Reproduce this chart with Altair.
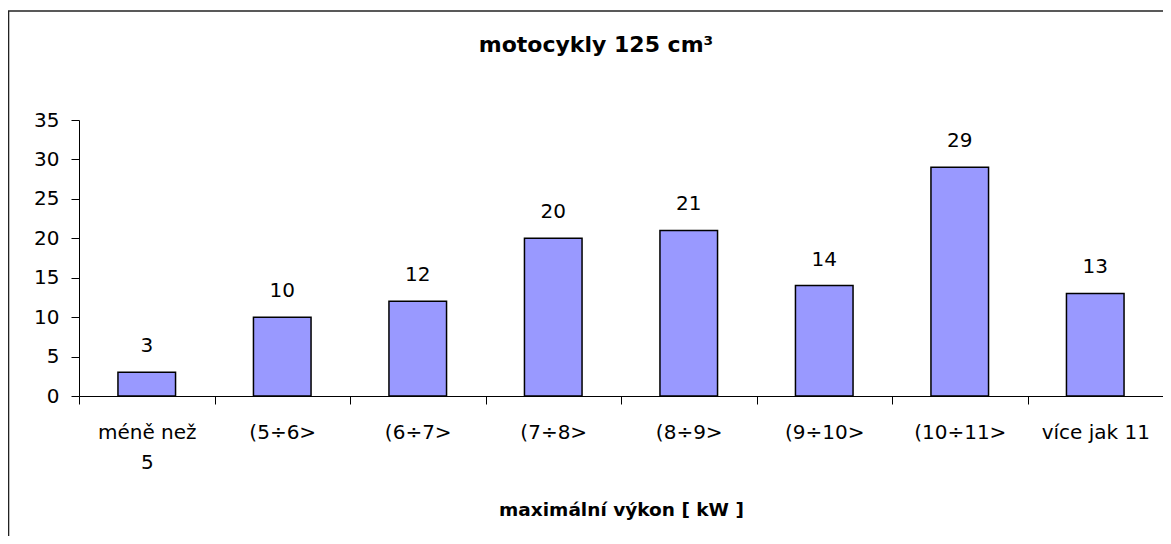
import altair as alt
import pandas as pd

categories = ["méně než\n5", "(5÷6>", "(6÷7>", "(7÷8>", "(8÷9>", "(9÷10>", "(10÷11>", "více jak 11"]
counts = [3, 10, 12, 20, 21, 14, 29, 13]
y_ticks = [0, 5, 10, 15, 20, 25, 30, 35]
title_text = "motocykly 125 cm³"
x_title = "maximální výkon [ kW ]"

df = pd.DataFrame({"kat": categories, "pocet": counts})
FONT = "DejaVu Sans"

x_enc = alt.X(
    "kat:N",
    sort=None,
    scale=alt.Scale(paddingInner=0, paddingOuter=0),
    axis=alt.Axis(
        title=x_title,
        labelAngle=0,
        tickBand="extent",
        labelExpr="split(datum.label, '\\n')",
        labelLineHeight=30,
        labelFontSize=20,
        labelFont=FONT,
        labelColor="black",
        labelPadding=18,
        tickSize=8,
        tickColor="black",
        domainColor="black",
        grid=False,
        titleFontSize=18.5,
        titleFont=FONT,
        titleColor="black",
        titleFontWeight="bold",
        titlePadding=28,
    ),
)

y_enc = alt.Y(
    "pocet:Q",
    scale=alt.Scale(domain=[0, 35], nice=False, zero=True),
    axis=alt.Axis(
        title=None,
        values=y_ticks,
        grid=False,
        labelFontSize=20,
        labelFont=FONT,
        labelColor="black",
        labelPadding=12,
        labelOverlap=False,
        tickSize=8,
        tickColor="black",
        domainColor="black",
    ),
)

base = alt.Chart(df).encode(x=x_enc, y=y_enc)

bars = base.mark_bar(
    width=alt.RelativeBandSize(0.425),
    color="#9999FF",
    stroke="black",
    strokeWidth=1.5,
)

labels = base.mark_text(
    baseline="alphabetic", dy=-20, fontSize=20, font=FONT, color="black"
).encode(text="pocet:Q")

one = pd.DataFrame({"t": [title_text]})
title_mark = alt.Chart(one).mark_text(
    fontSize=22, fontWeight="bold", font=FONT, color="black", baseline="middle", align="center"
).encode(x=alt.value(517), y=alt.value(-75), text="t:N")

top_border = alt.Chart(one).mark_rule(color="#222222", strokeWidth=1.6).encode(
    x=alt.value(-71), x2=alt.value(1200), y=alt.value(-109)
)
left_border = alt.Chart(one).mark_rule(color="#222222", strokeWidth=1.6).encode(
    x=alt.value(-70.5), y=alt.value(-109), y2=alt.value(600)
)
# white cover over the view's outline at the top of the plot area
top_cover = alt.Chart(one).mark_rule(color="white", strokeWidth=3).encode(
    x=alt.value(1.5), x2=alt.value(1090), y=alt.value(0)
)

chart = alt.layer(bars, labels, title_mark, top_border, left_border, top_cover).properties(
    width=1084,
    height=276,
    autosize=alt.AutoSizeParams(type="none"),
    padding={"left": 71, "top": 112, "right": 0, "bottom": 140},
    background="white",
).configure_view(stroke="transparent", strokeWidth=0)

chart.save("out.html", embed_options={"renderer": "svg", "actions": False})
